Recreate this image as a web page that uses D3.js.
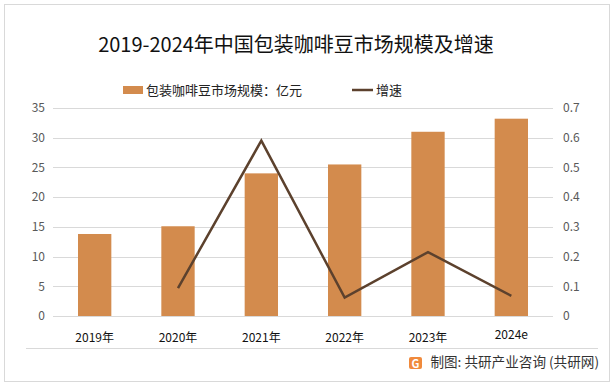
<!DOCTYPE html>
<html>
<head>
<meta charset="utf-8">
<script src="https://cdn.jsdelivr.net/npm/d3@7"></script>
<style>
  body { margin: 0; background: #fff; }
  text { font-family: "Microsoft YaHei", "Noto Sans CJK SC", sans-serif; }
</style>
</head>
<body>
<script>
// chart data
var years = ["2019年", "2020年", "2021年", "2022年", "2023年", "2024e"]
var marketSize = [13.8, 15.1, 24.0, 25.5, 31.0, 33.2]
var growth = [null, 0.094, 0.59, 0.062, 0.215, 0.068]
var leftTicks = [0, 5, 10, 15, 20, 25, 30, 35]
var rightTicks = [0, 0.1, 0.2, 0.3, 0.4, 0.5, 0.6, 0.7]

var W = 616, H = 386
var barColor = "#D38B4D"
var lineColor = "#5C412D"

let svg = d3.select("body")
  .append("svg")
  .attr("width", W)
  .attr("height", H)

// outer frame
svg.append("rect")
  .attr("x", 4.5).attr("y", 4.5)
  .attr("width", 605).attr("height", 377)
  .attr("fill", "#fff")
  .attr("stroke", "#d9d9d9")

svg.append("text")
  .attr("x", 296).attr("y", 52)
  .attr("text-anchor", "middle")
  .style("font-size", "20px")
  .style("fill", "#111")
  .text("2019-2024年中国包装咖啡豆市场规模及增速")

// legend
svg.append("rect")
  .attr("x", 123).attr("y", 86)
  .attr("width", 20).attr("height", 8)
  .attr("fill", barColor)
svg.append("text")
  .attr("x", 146).attr("y", 95)
  .style("font-size", "13px")
  .style("fill", "#222")
  .text("包装咖啡豆市场规模：亿元")
svg.append("line")
  .attr("x1", 352).attr("x2", 373)
  .attr("y1", 90).attr("y2", 90)
  .attr("stroke", lineColor)
  .attr("stroke-width", 2.5)
svg.append("text")
  .attr("x", 376).attr("y", 95)
  .style("font-size", "13px")
  .style("fill", "#222")
  .text("增速")

let Xscale = d3.scaleBand()
  .domain(years)
  .range([53, 553])
  .paddingInner(0.6)
  .paddingOuter(0.3)

let Yscale = d3.scaleLinear()
  .domain([0, 35])
  .range([316, 108])

let Y2scale = d3.scaleLinear()
  .domain([0, 0.7])
  .range([316, 108])

// gridlines
svg.append("g")
  .selectAll("line")
  .data(leftTicks)
  .enter()
  .append("line")
  .attr("x1", 53).attr("x2", 553)
  .attr("y1", d => Math.round(Yscale(d)) + 0.5)
  .attr("y2", d => Math.round(Yscale(d)) + 0.5)
  .attr("stroke", "#d9d9d9")

let yAxisGroup = svg.append("g")
  .attr("transform", "translate(45,0)")
  .call(d3.axisLeft(Yscale).tickValues(leftTicks).tickSize(0).tickPadding(0))
let y2AxisGroup = svg.append("g")
  .attr("transform", "translate(563,0)")
  .call(d3.axisRight(Y2scale).tickValues(rightTicks).tickSize(0).tickPadding(0)
    .tickFormat(d => d === 0 ? "0" : d3.format(".1f")(d)))

;[yAxisGroup, y2AxisGroup].forEach(g => {
  g.select(".domain").remove()
  g.selectAll("text")
    .style("font-size", "12px")
    .style("fill", "#595959")
    .style("font-family", "'Microsoft YaHei', 'Noto Sans CJK SC', sans-serif")
})

// bars
svg.selectAll(".bar")
  .data(marketSize)
  .enter()
  .append("rect")
  .attr("class", "bar")
  .attr("x", (d, i) => Xscale(years[i]))
  .attr("width", Xscale.bandwidth())
  .attr("y", d => Yscale(d))
  .attr("height", d => Yscale(0) - Yscale(d))
  .attr("fill", barColor)

// growth line
let line = d3.line()
  .defined(d => d.v != null)
  .x(d => Xscale(d.year) + Xscale.bandwidth() / 2)
  .y(d => Y2scale(d.v))

svg.append("path")
  .datum(years.map((y, i) => ({ year: y, v: growth[i] })))
  .attr("d", line)
  .attr("fill", "none")
  .attr("stroke", lineColor)
  .attr("stroke-width", 2.5)
  .attr("stroke-linejoin", "miter")

// x labels
svg.selectAll(".xlab")
  .data(years)
  .enter()
  .append("text")
  .attr("class", "xlab")
  .attr("x", d => Xscale(d) + Xscale.bandwidth() / 2)
  .attr("y", d => d === "2024e" ? 339 : 342)
  .attr("text-anchor", "middle")
  .style("font-size", "12px")
  .style("fill", "#111")
  .text(d => d)

// footer
svg.append("line")
  .attr("x1", 26).attr("x2", 598)
  .attr("y1", 348.5).attr("y2", 348.5)
  .attr("stroke", "#d9d9d9")

let logo = svg.append("g").attr("transform", "translate(409,357)")
logo.append("rect")
  .attr("width", 13).attr("height", 12).attr("rx", 2)
  .attr("fill", "#F08A3C")
logo.append("text")
  .attr("x", 6.5).attr("y", 10.5)
  .attr("text-anchor", "middle")
  .style("font-size", "11px")
  .style("font-weight", "bold")
  .style("fill", "#fff")
  .text("G")

svg.append("text")
  .attr("x", 599).attr("y", 367)
  .attr("text-anchor", "end")
  .style("font-size", "13.6px")
  .style("fill", "#333")
  .text("制图: 共研产业咨询 (共研网)")
</script>
</body>
</html>
